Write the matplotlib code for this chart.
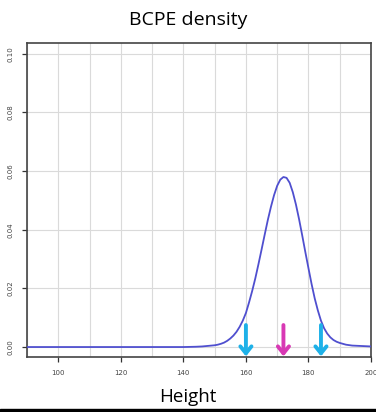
import matplotlib
matplotlib.use("Agg")
import matplotlib.pyplot as plt
from matplotlib.ticker import MultipleLocator, FixedLocator
from matplotlib.patches import Rectangle

# Data
height = [90, 100, 110, 120, 130, 140, 144, 146, 148, 150, 151, 152, 153, 154,
          155, 156, 157, 158, 159, 160, 161, 162, 163, 164, 165, 166, 167, 168,
          169, 170, 171, 172, 173, 174, 175, 176, 177, 178, 179, 180, 181, 182,
          183, 184, 185, 186, 187, 188, 189, 190, 191, 192, 194, 196, 198, 200]
density = [0, 0, 0, 0, 0, 0, 0.0001, 0.0002, 0.0004, 0.0006, 0.0008, 0.0011,
           0.0015, 0.0021, 0.0029, 0.0039, 0.0052, 0.0069, 0.0090, 0.0116,
           0.0152, 0.0191, 0.0234, 0.0282, 0.0332, 0.0383, 0.0433, 0.0478,
           0.0518, 0.0550, 0.0571, 0.0580, 0.0577, 0.0560, 0.0528, 0.0486,
           0.0436, 0.0381, 0.0324, 0.0269, 0.0215, 0.0166, 0.0125, 0.0090,
           0.0064, 0.0046, 0.0033, 0.0024, 0.0018, 0.0014, 0.0011, 0.0008,
           0.0005, 0.0004, 0.0003, 0.0002]
centiles = [160, 172, 184]
centile_colors = ["#1eb1e8", "#d838b4", "#1eb1e8"]
xticks = [100, 120, 140, 160, 180, 200]
yticks = [0.00, 0.02, 0.04, 0.06, 0.08, 0.10]
yticklabels = ["0.00", "0.02", "0.04", "0.06", "0.08", "0.10"]

fig = plt.figure(figsize=(3.76, 4.12), dpi=100)
ax = fig.add_axes([27/376, 1-357/412, (371-27)/376, (357-43)/412])

ax.plot(height, density, color="#4f4fcf", lw=1.3, zorder=3)

ax.set_xlim(90, 200)
ax.set_ylim(-0.0034, 0.1037)

ax.xaxis.set_major_locator(FixedLocator(xticks))
ax.xaxis.set_minor_locator(MultipleLocator(10))
ax.yaxis.set_major_locator(FixedLocator(yticks))
ax.set_yticklabels(yticklabels, rotation=90, va="center")
ax.grid(True, which="both", axis="x", color="#dadada", lw=0.8, zorder=0)
ax.grid(True, which="major", axis="y", color="#dadada", lw=0.8, zorder=0)
ax.tick_params(which="minor", length=0)
ax.tick_params(which="major", length=3.5, width=0.9, color="#333333",
               labelsize=5, labelcolor="#444444", pad=6)
for s in ax.spines.values():
    s.set_color("#444444")
    s.set_linewidth(1.2)

for c, col in zip(centiles, centile_colors):
    ax.annotate("", xy=(c, -0.0032), xytext=(c, 0.0075),
                arrowprops=dict(arrowstyle="->,head_length=0.5,head_width=0.4",
                                color=col, lw=2.8, shrinkA=0, shrinkB=0),
                zorder=4)

fig.text(0.5, 1-20/412, "BCPE density", ha="center", va="center",
         fontsize=14, family="Open Sans")
fig.text(0.5, 1-397/412, "Height", ha="center", va="center",
         fontsize=13.5, family="Open Sans")
fig.patches.append(Rectangle((0, 0), 1, 3/412, transform=fig.transFigure,
                             color="black", zorder=10))

fig.savefig("out.png", dpi=100)
